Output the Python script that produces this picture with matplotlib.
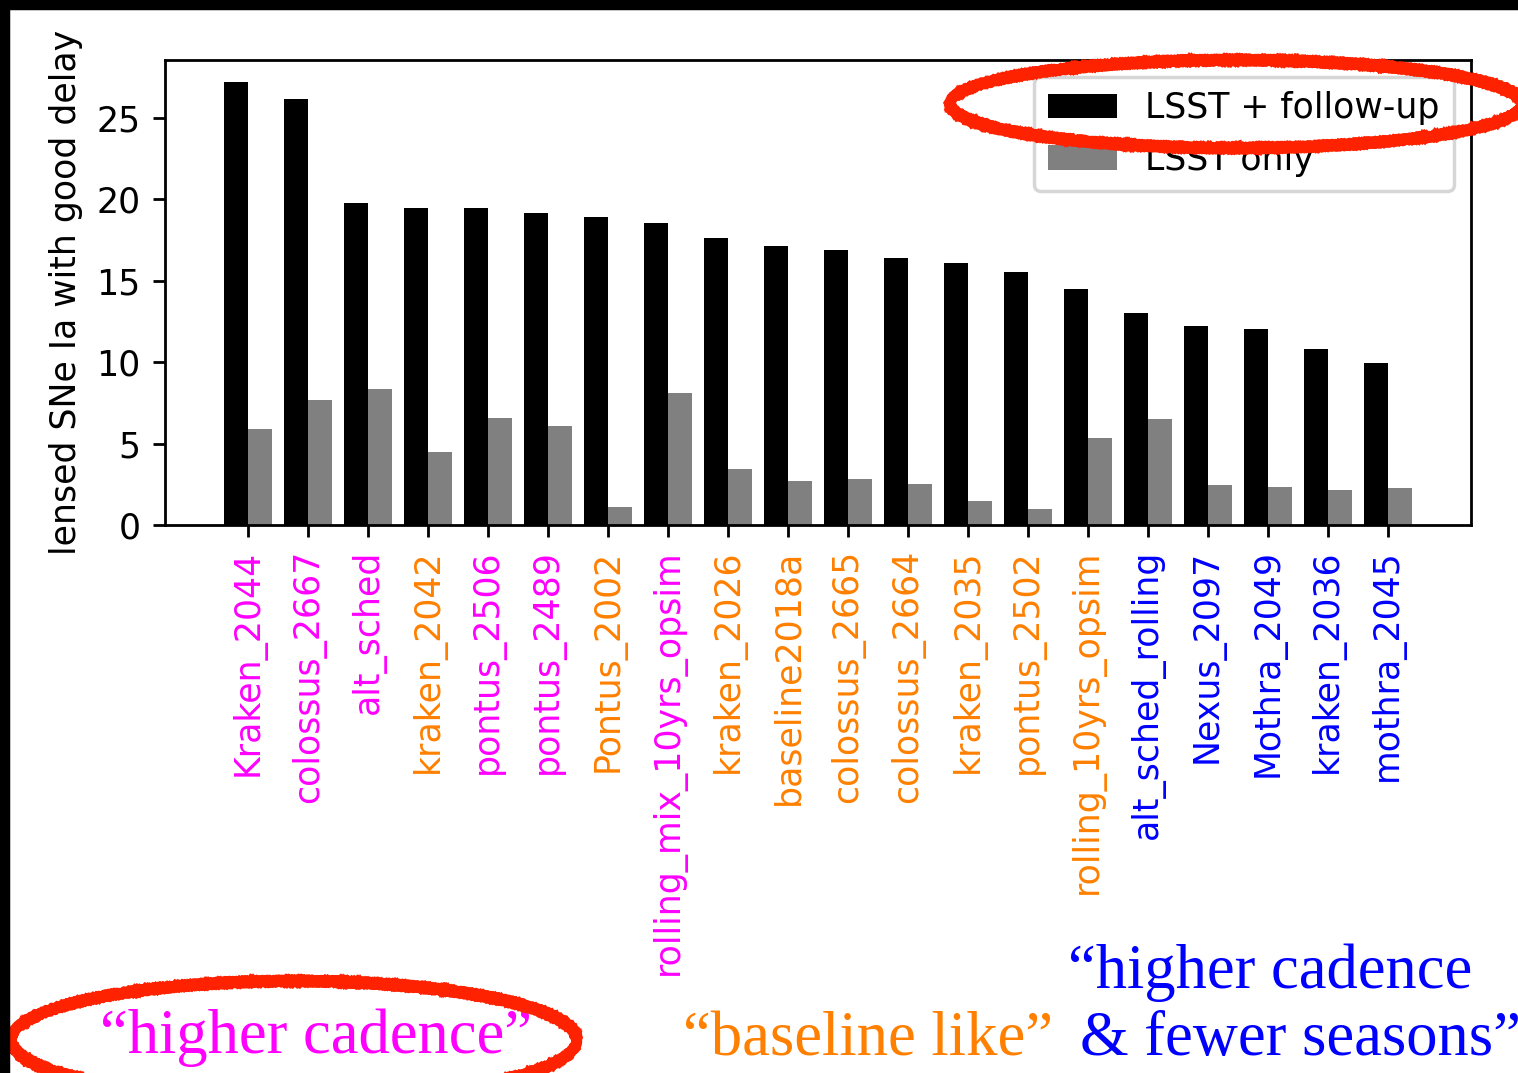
import matplotlib
matplotlib.use("Agg")
import matplotlib.pyplot as plt
from matplotlib.patches import Ellipse, Rectangle
import numpy as np

# ---- data ----
categories = ["Kraken_2044", "colossus_2667", "alt_sched", "kraken_2042", "pontus_2506",
              "pontus_2489", "Pontus_2002", "rolling_mix_10yrs_opsim", "kraken_2026",
              "baseline2018a", "colossus_2665", "colossus_2664", "kraken_2035", "pontus_2502",
              "rolling_10yrs_opsim", "alt_sched_rolling", "Nexus_2097", "Mothra_2049",
              "kraken_2036", "mothra_2045"]
lsst_followup = [27.2, 26.15, 19.8, 19.48, 19.48, 19.18, 18.93, 18.55, 17.63, 17.14,
                 16.88, 16.42, 16.1, 15.52, 14.52, 13.04, 12.2, 12.06, 10.83, 9.93]
lsst_only = [5.89, 7.65, 8.33, 4.47, 6.6, 6.05, 1.08, 8.09, 3.45, 2.73,
             2.8, 2.5, 1.5, 1.0, 5.32, 6.49, 2.44, 2.35, 2.13, 2.25]
groups = ["hc", "hc", "hc", "bl", "hc", "hc", "bl", "hc", "bl", "bl",
          "bl", "bl", "bl", "bl", "bl", "hf", "hf", "hf", "hf", "hf"]
legend_labels = ["LSST + follow-up", "LSST only"]
ylabel = "lensed SNe Ia with good delay"

MAGENTA = "#ff00ff"
ORANGE = "#ff8000"
BLUE = "#0000ff"
group_colors = {"hc": MAGENTA, "bl": ORANGE, "hf": BLUE}

W, H = 1518, 1073
DPI = 250
fig = plt.figure(figsize=(W / DPI, H / DPI), dpi=DPI)
fig.patch.set_facecolor("white")

ax = fig.add_axes([165 / W, 1 - 525 / H, (1471 - 165) / W, (525 - 60) / H])
x = np.arange(len(categories))
bw = 0.4
ax.bar(x - bw / 2, lsst_followup, bw, color="black", label=legend_labels[0])
ax.bar(x + bw / 2, lsst_only, bw, color="gray", label=legend_labels[1])
ax.set_xticks(x)
ax.set_xticklabels(categories, rotation=90)
for lbl, g in zip(ax.get_xticklabels(), groups):
    lbl.set_color(group_colors[g])
ax.set_ylabel(ylabel)
ax.legend(loc="upper right")

# bottom annotations
serif = "Liberation Serif"
fs = 18
fig.text(100 / W, 1 - 1053 / H, "\u201chigher cadence\u201d", color=MAGENTA,
         family=serif, fontsize=fs, va="baseline", ha="left")
fig.text(683 / W, 1 - 1055 / H, "\u201cbaseline like\u201d", color=ORANGE,
         family=serif, fontsize=fs, va="baseline", ha="left")
fig.text(1068 / W, 1 - 988 / H, "\u201chigher cadence", color=BLUE,
         family=serif, fontsize=fs, va="baseline", ha="left")
fig.text(1080 / W, 1 - 1055 / H, "& fewer seasons\u201d", color=BLUE,
         family=serif, fontsize=fs, va="baseline", ha="left")

# hand-drawn red ellipses
RED = "#ff2200"
def rough_ellipse(cx, cy, w, h, angle=0):
    passes = [(0, 0, 3.2, 0.5), (2, -3, 1.6, 0.7), (-2, 3, 1.6, 0.7),
              (1, 4, 1.0, 0.9), (-1, -4, 1.0, 0.9)]
    for dx, dy, lw, sc in passes:
        e = Ellipse(((cx + dx) / W, 1 - (cy + dy) / H), w / W, h / H, angle=angle,
                    transform=fig.transFigure, fill=False, edgecolor=RED, lw=lw,
                    zorder=10)
        e.set_sketch_params(scale=sc, length=4, randomness=3)
        fig.add_artist(e)

rough_ellipse(1236, 104, 572, 88)
rough_ellipse(294, 1040, 566, 118)

# black border (top and left)
fig.add_artist(Rectangle((0, 1 - 8 / H), 1, 8 / H, transform=fig.transFigure,
                         color="black", zorder=20))
fig.add_artist(Rectangle((0, 0), 8 / W, 1, transform=fig.transFigure,
                         color="black", zorder=20))

fig.savefig("out.png", dpi=DPI)
